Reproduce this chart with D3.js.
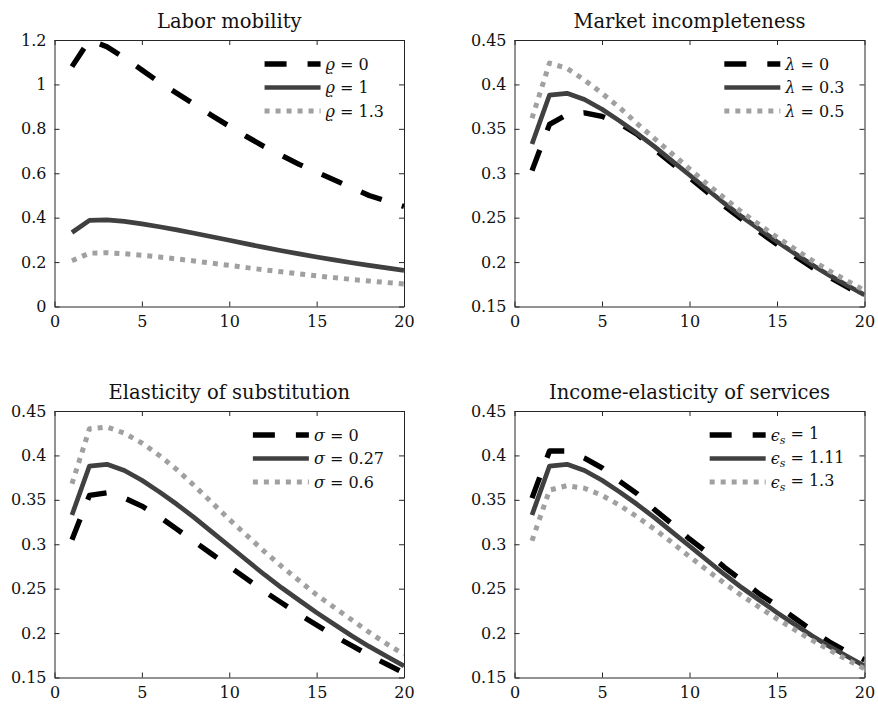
<!DOCTYPE html>
<html>
<head>
<meta charset="utf-8">
<script src="https://cdn.jsdelivr.net/npm/d3@7"></script>
<style>
body{margin:0;background:#fff;}
text{font-family:"DejaVu Serif",serif;fill:#111;}
</style>
</head>
<body>
<svg id="chart" width="878" height="705"></svg>
<script>
'use strict';

// horizon (x axis)
const periods = [1,2,3,4,5,6,7,8,9,10,11,12,13,14,15,16,17,18,19,20];
const xTicks = [0,5,10,15,20];
const mobilityTicks = [0,0.2,0.4,0.6,0.8,1,1.2];
const shareTicks = [0.15,0.2,0.25,0.3,0.35,0.4,0.45];

// baseline calibration (solid line, same in every panel)
const baseline = [0.333,0.388,0.390,0.383,0.372,0.359,0.345,0.330,0.314,0.298,0.282,0.266,0.251,0.237,0.223,0.210,0.197,0.185,0.174,0.163];

// labor mobility
const rho0  = [1.08,1.20,1.17,1.12,1.065,1.01,0.96,0.91,0.86,0.812,0.765,0.72,0.68,0.64,0.605,0.57,0.535,0.50,0.475,0.45];
const rho13 = [0.206,0.240,0.242,0.238,0.231,0.223,0.214,0.205,0.195,0.185,0.175,0.165,0.156,0.147,0.138,0.130,0.122,0.115,0.108,0.101];
const rhoLabels = ['0','1','1.3'];

// market incompleteness
const lambda0  = [0.303,0.355,0.366,0.368,0.364,0.356,0.344,0.327,0.311,0.295,0.279,0.263,0.248,0.234,0.220,0.207,0.194,0.183,0.172,0.161];
const lambda05 = [0.362,0.424,0.418,0.405,0.390,0.374,0.356,0.339,0.322,0.305,0.288,0.272,0.256,0.242,0.228,0.215,0.202,0.190,0.179,0.168];
const lambdaLabels = ['0','0.3','0.5'];

// elasticity of substitution
const sigma0  = [0.305,0.355,0.358,0.352,0.343,0.331,0.317,0.303,0.289,0.275,0.261,0.247,0.234,0.221,0.209,0.197,0.186,0.175,0.165,0.155];
const sigma06 = [0.368,0.430,0.432,0.425,0.414,0.400,0.384,0.366,0.347,0.328,0.310,0.292,0.275,0.259,0.243,0.229,0.215,0.201,0.188,0.176];
const sigmaLabels = ['0','0.27','0.6'];

// income elasticity of services
const eps1  = [0.352,0.405,0.405,0.397,0.386,0.371,0.357,0.339,0.323,0.306,0.291,0.274,0.259,0.244,0.231,0.217,0.203,0.190,0.179,0.170];
const eps13 = [0.304,0.361,0.366,0.363,0.355,0.344,0.331,0.317,0.302,0.286,0.271,0.256,0.242,0.229,0.216,0.204,0.192,0.181,0.170,0.160];
const epsLabels = ['1','1.11','1.3'];

const styles = {
  dash:  {color:'#000',    width:5.3, dash:'22,21'},
  solid: {color:'#404040', width:4.7, dash:null},
  dot:   {color:'#a0a0a0', width:5,   dash:'5,6'}
};
const order = ['dash','solid','dot'];

const panels = [
  {title:'Labor mobility', sym:'ϱ', sub:null, labels:rhoLabels, series:[rho0,baseline,rho13],
   yDomain:[0,1.2], yTicks:mobilityTicks, box:{x:54.5,y:40,w:349.5,h:266.5}},
  {title:'Market incompleteness', sym:'λ', sub:null, labels:lambdaLabels, series:[lambda0,baseline,lambda05],
   yDomain:[0.15,0.45], yTicks:shareTicks, box:{x:514.5,y:40,w:350,h:266.5}},
  {title:'Elasticity of substitution', sym:'σ', sub:null, labels:sigmaLabels, series:[sigma0,baseline,sigma06],
   yDomain:[0.15,0.45], yTicks:shareTicks, box:{x:54.5,y:411,w:349.5,h:266.5}},
  {title:'Income-elasticity of services', sym:'ϵ', sub:'s', labels:epsLabels, series:[eps1,baseline,eps13],
   yDomain:[0.15,0.45], yTicks:shareTicks, box:{x:514.5,y:411,w:350,h:266.5}}
];

const svg = d3.select('#chart');
const fmt = d => String(+d.toFixed(2));

panels.forEach(function(p, pi){
  const b = p.box;
  const x = d3.scaleLinear().domain([0,20]).range([0,b.w]);
  const y = d3.scaleLinear().domain(p.yDomain).range([b.h,0]);
  const g = svg.append('g').attr('transform', 'translate(' + b.x + ',' + b.y + ')');

  g.append('clipPath').attr('id','clip'+pi)
    .append('rect').attr('width',b.w).attr('height',b.h);

  // lines
  const line = d3.line().x((d,i) => x(periods[i])).y(d => y(d));
  p.series.forEach(function(vals, si){
    const st = styles[order[si]];
    g.append('path')
      .attr('clip-path','url(#clip'+pi+')')
      .attr('d', line(vals))
      .attr('fill','none')
      .attr('stroke', st.color)
      .attr('stroke-width', st.width)
      .attr('stroke-dasharray', st.dash)
      .attr('stroke-linejoin','round');
  });

  // axes, ticks inward on all sides
  const axes = [
    {ax:d3.axisBottom(x).tickValues(xTicks).tickFormat(fmt).tickPadding(9), t:'translate(0,'+b.h+')'},
    {ax:d3.axisTop(x).tickValues(xTicks).tickFormat(''), t:'translate(0,0)'},
    {ax:d3.axisLeft(y).tickValues(p.yTicks).tickFormat(fmt).tickPadding(8), t:'translate(0,0)'},
    {ax:d3.axisRight(y).tickValues(p.yTicks).tickFormat(''), t:'translate('+b.w+',0)'}
  ];
  axes.forEach(function(a){
    const ag = g.append('g').attr('transform', a.t)
      .call(a.ax.tickSizeInner(-5).tickSizeOuter(0));
    ag.select('.domain').attr('stroke','#262626').attr('stroke-width',1);
    ag.selectAll('.tick line').attr('stroke','#262626').attr('stroke-width',1);
    ag.selectAll('.tick text').attr('font-size',16).attr('fill','#111')
      .style('font-family','"DejaVu Serif",serif');
  });

  // title
  g.append('text')
    .attr('x', b.w/2).attr('y', -12)
    .attr('text-anchor','middle')
    .attr('font-size',19.5)
    .text(p.title);

  // legend (northeast, no box)
  const lg = g.append('g');
  const texts = p.labels.map(function(lab, i){
    const t = lg.append('text').attr('y', 24 + i*23.5).attr('dy','0.35em').attr('font-size',16);
    t.append('tspan').attr('font-style','italic').text(p.sym);
    if (p.sub) t.append('tspan').attr('font-style','italic').attr('font-size',11)
      .attr('dy','0.3em').text(p.sub);
    t.append('tspan').attr('dy', p.sub ? '-0.3em' : null).text(' = ' + lab);
    return t;
  });
  const maxW = d3.max(texts, t => t.node().getComputedTextLength());
  const textX = b.w - 20 - maxW;
  texts.forEach(t => t.attr('x', textX));
  p.labels.forEach(function(lab, i){
    const st = styles[order[i]];
    lg.append('line')
      .attr('x1', textX - 61).attr('x2', textX - 5)
      .attr('y1', 24 + i*23.5).attr('y2', 24 + i*23.5)
      .attr('stroke', st.color)
      .attr('stroke-width', st.width)
      .attr('stroke-dasharray', st.dash);
  });
});
</script>
</body>
</html>
